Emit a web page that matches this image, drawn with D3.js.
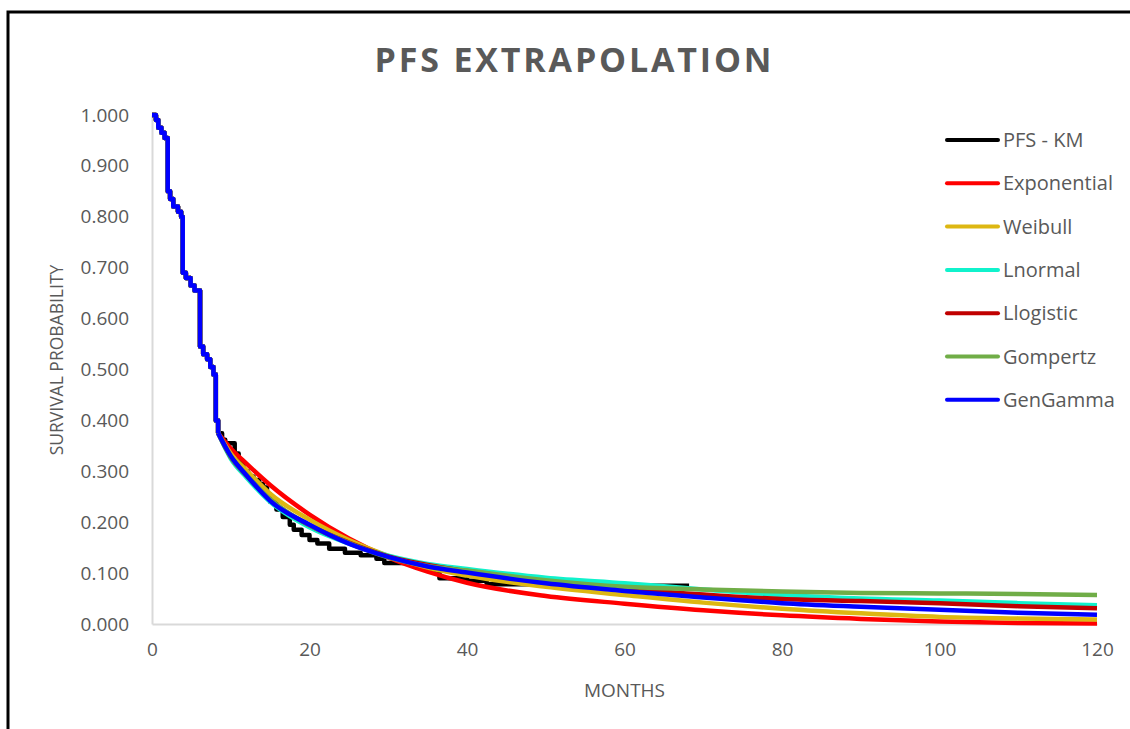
<!DOCTYPE html>
<html>
<head>
<meta charset="utf-8">
<script src="https://cdn.jsdelivr.net/npm/d3@7"></script>
<style>
  html, body { margin: 0; padding: 0; background: #fff; }
  svg { display: block; font-family: "Open Sans", "Noto Sans", sans-serif; }
</style>
</head>
<body>
<svg id="chart" width="1130" height="729"></svg>
<script>
// Kaplan-Meier progression-free survival (step times in months, survival after each step)
const kmTime = [0, 0.5, 0.8, 1.2, 1.6, 2.0, 2.3, 2.7, 3.3, 3.7, 3.9, 4.3, 4.9, 5.4, 6.1, 6.5, 7.0, 7.4, 7.8,
  8.1, 8.4, 8.9, 9.3, 10.5, 11.0, 11.6, 12.2, 12.9, 13.6, 14.1, 14.6, 15.0, 15.8, 16.6, 17.5, 18.0,
  19.0, 20.0, 21.0, 22.5, 24.5, 26.5, 28.5, 29.5, 33.0, 35.0, 36.5, 40.0, 42.5, 50.0, 68.2];
const kmSurv = [1.0, 0.99, 0.975, 0.965, 0.955, 0.85, 0.835, 0.82, 0.81, 0.80, 0.69, 0.68, 0.665, 0.655, 0.545, 0.53, 0.52, 0.505, 0.49,
  0.40, 0.375, 0.362, 0.355, 0.335, 0.318, 0.30, 0.29, 0.283, 0.275, 0.268, 0.255, 0.24, 0.225, 0.21, 0.195, 0.185,
  0.175, 0.165, 0.158, 0.148, 0.14, 0.135, 0.128, 0.12, 0.115, 0.105, 0.09, 0.085, 0.078, 0.075, 0.075];

// Observed phase shared by every extrapolation before the fitted tail takes over
const cutoff = 8.4;

// Fitted tails (months, survival)
const fitTime = [8.4, 10, 12, 15, 20, 25, 30, 35, 40, 50, 60, 70, 80, 90, 100, 110, 120];
const exponential = [0.375, 0.345, 0.315, 0.273, 0.215, 0.168, 0.131, 0.103, 0.081, 0.055, 0.040, 0.027, 0.017, 0.010, 0.005, 0.002, 0.001];
const weibull     = [0.375, 0.335, 0.302, 0.256, 0.205, 0.165, 0.134, 0.111, 0.095, 0.073, 0.057, 0.042, 0.030, 0.021, 0.014, 0.011, 0.009];
const lnormal     = [0.375, 0.325, 0.288, 0.240, 0.190, 0.158, 0.134, 0.118, 0.108, 0.091, 0.080, 0.068, 0.057, 0.050, 0.046, 0.041, 0.037];
const llogistic   = [0.375, 0.328, 0.292, 0.244, 0.194, 0.160, 0.133, 0.116, 0.104, 0.084, 0.070, 0.058, 0.049, 0.045, 0.041, 0.035, 0.031];
const gompertz    = [0.375, 0.328, 0.293, 0.245, 0.194, 0.159, 0.131, 0.114, 0.105, 0.086, 0.073, 0.068, 0.064, 0.061, 0.060, 0.059, 0.057];
const genGamma    = [0.375, 0.330, 0.292, 0.242, 0.195, 0.158, 0.132, 0.113, 0.101, 0.080, 0.065, 0.052, 0.041, 0.034, 0.028, 0.022, 0.018];

const seriesNames  = ["PFS - KM", "Exponential", "Weibull", "Lnormal", "Llogistic", "Gompertz", "GenGamma"];
const seriesColors = ["#000000", "#FF0000", "#DDB712", "#10F2CC", "#C00000", "#70AD47", "#0000FF"];
const fittedValues = [exponential, weibull, lnormal, llogistic, gompertz, genGamma];

const xTicks = [0, 20, 40, 60, 80, 100, 120];
const yTicks = [0, 0.1, 0.2, 0.3, 0.4, 0.5, 0.6, 0.7, 0.8, 0.9, 1.0];

const svg = d3.select("#chart");
const W = 1130, H = 729;
const plot = { left: 152, right: 1097, top: 115, bottom: 624 };

const x = d3.scaleLinear().domain([0, 120]).range([plot.left, plot.right]);
const y = d3.scaleLinear().domain([0, 1]).range([plot.bottom, plot.top]);

// outer chart frame
svg.append("rect").attr("x", 0).attr("y", 0).attr("width", W).attr("height", H).attr("fill", "#fff");
svg.append("path")
  .attr("d", `M8,${H + 5} L8,12 L${W + 5},12`)
  .attr("fill", "none").attr("stroke", "#000").attr("stroke-width", 3);

// title
svg.append("text")
  .attr("x", 573).attr("y", 72)
  .attr("text-anchor", "middle")
  .attr("font-size", 34).attr("font-weight", 700)
  .attr("fill", "#595959")
  .attr("textLength", 397).attr("lengthAdjust", "spacing")
  .text("PFS EXTRAPOLATION");

// axes
const gx = svg.append("g").attr("transform", `translate(0,${plot.bottom})`)
  .call(d3.axisBottom(x).tickValues(xTicks).tickSize(0).tickPadding(19).tickFormat(d3.format("d")));
const gy = svg.append("g").attr("transform", `translate(${plot.left},0)`)
  .call(d3.axisLeft(y).tickValues(yTicks).tickSize(0).tickPadding(23).tickFormat(d3.format(".3f")));
[gx, gy].forEach(g => {
  g.select(".domain").attr("stroke", "#D9D9D9").attr("stroke-width", 2);
  g.selectAll("text").attr("font-size", 19).attr("fill", "#595959").attr("font-family", "Open Sans, sans-serif");
});

// axis titles
svg.append("text")
  .attr("x", x(60)).attr("y", 697)
  .attr("text-anchor", "middle").attr("font-size", 19).attr("fill", "#595959")
  .text("MONTHS");
svg.append("text")
  .attr("transform", "translate(63,360) rotate(-90)")
  .attr("text-anchor", "middle").attr("font-size", 17.5).attr("fill", "#595959")
  .text("SURVIVAL PROBABILITY");

// curves
const stepLine = d3.line().x(d => x(d[0])).y(d => y(d[1])).curve(d3.curveStepAfter);
const smoothLine = d3.line().x(d => x(d[0])).y(d => y(d[1])).curve(d3.curveMonotoneX);

const km = kmTime.map((t, i) => [t, kmSurv[i]]);
const kmEarly = km.filter(d => d[0] < cutoff).concat([[cutoff, kmSurv[kmTime.findIndex(t => t >= cutoff)]]]);

const lines = svg.append("g").attr("fill", "none").attr("stroke-width", 4.5)
  .attr("stroke-linejoin", "round");

lines.append("path").attr("d", stepLine(km)).attr("stroke", seriesColors[0]);

fittedValues.forEach((vals, i) => {
  const color = seriesColors[i + 1];
  lines.append("path").attr("d", stepLine(kmEarly)).attr("stroke", color);
  lines.append("path").attr("d", smoothLine(fitTime.map((t, j) => [t, vals[j]]))).attr("stroke", color);
});

// legend
const legend = svg.append("g");
seriesNames.forEach((name, i) => {
  const ly = 140 + i * 43.3;
  legend.append("line")
    .attr("x1", 947).attr("x2", 998).attr("y1", ly).attr("y2", ly)
    .attr("stroke", seriesColors[i]).attr("stroke-width", 4).attr("stroke-linecap", "round");
  legend.append("text")
    .attr("x", 1003).attr("y", ly).attr("dy", "0.35em")
    .attr("font-size", 20).attr("fill", "#595959")
    .text(name);
});
</script>
</body>
</html>
